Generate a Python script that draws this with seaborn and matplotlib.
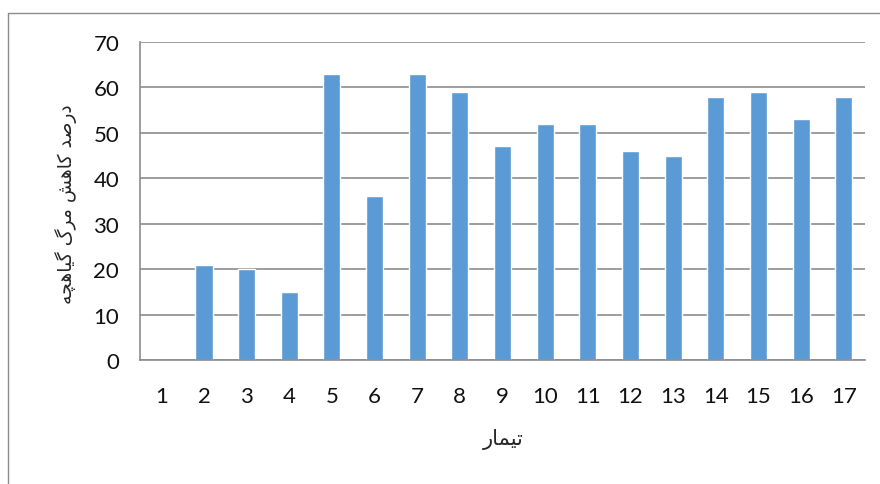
import numpy as np
import matplotlib
matplotlib.use('Agg')
import matplotlib.pyplot as plt
import seaborn as sns
from matplotlib import font_manager
from matplotlib.ft2font import FT2Font
from matplotlib.lines import Line2D

# data
treatments = [str(i) for i in range(1, 18)]
reduction = [0, 21, 20, 15, 63, 36, 63, 59, 47, 52, 52, 46, 45, 58, 59, 53, 58]
y_ticks = [0, 10, 20, 30, 40, 50, 60, 70]
x_title = 'تیمار'
y_title = 'درصد کاهش مرگ گیاهچه'

# matplotlib has no arabic shaping, so do a tiny one by hand
# letter -> (isolated, final, initial, medial)
forms = {
    'ا': (0xFE8D, 0xFE8E, None, None),
    'د': (0xFEA9, 0xFEAA, None, None),
    'ر': (0xFEAD, 0xFEAE, None, None),
    'ص': (0xFEB9, 0xFEBA, 0xFEBB, 0xFEBC),
    'ک': (0xFB8E, 0xFB8F, 0xFB90, 0xFB91),
    'ه': (0xFEE9, 0xFEEA, 0xFEEB, 0xFEEC),
    'ش': (0xFEB5, 0xFEB6, 0xFEB7, 0xFEB8),
    'م': (0xFEE1, 0xFEE2, 0xFEE3, 0xFEE4),
    'گ': (0xFB92, 0xFB93, 0xFB94, 0xFB95),
    'ی': (0xFBFC, 0xFBFD, 0xFBFE, 0xFBFF),
    'چ': (0xFB7A, 0xFB7B, 0xFB7C, 0xFB7D),
    'ت': (0xFE95, 0xFE96, 0xFE97, 0xFE98),
}

font_path = font_manager.findfont('DejaVu Sans')
cmap = FT2Font(font_path).get_charmap()


def shape(text):
    out = []
    for i, ch in enumerate(text):
        if ch not in forms:
            out.append(ch)
            continue
        prev = text[i - 1] if i > 0 else ''
        nxt = text[i + 1] if i + 1 < len(text) else ''
        joins_prev = prev in forms and forms[prev][2] is not None
        joins_next = nxt in forms and forms[ch][2] is not None
        if joins_prev and joins_next:
            cp = forms[ch][3]
        elif joins_prev:
            cp = forms[ch][1]
        elif joins_next:
            cp = forms[ch][2]
        else:
            cp = forms[ch][0]
        out.append(chr(cp) if cp in cmap else ch)
    return ''.join(out[::-1])


sns.set_style('white')
plt.rcParams['font.family'] = ['Lato', 'DejaVu Sans']

fig = plt.figure(figsize=(8.8, 4.85), dpi=100)
ax = fig.add_axes([140 / 880, 1 - 361 / 485, 725 / 880, 318 / 485])

sns.barplot(x=treatments, y=reduction, color='#5B9BD5', saturation=1,
            width=0.4, ax=ax)

grid_c = '#8c8c8c'
ax.set_ylim(0, 70)
ax.set_xlim(-0.5, 16.5)
ax.set_yticks(y_ticks)
ax.yaxis.grid(True, color=grid_c, lw=1.2)
ax.set_axisbelow(True)
for s in ['top', 'right']:
    ax.spines[s].set_visible(False)
for s in ['left', 'bottom']:
    ax.spines[s].set_color(grid_c)
    ax.spines[s].set_linewidth(1.2)

ax.set_xticks(np.arange(-0.5, 17, 1), minor=True)
ax.tick_params(axis='x', which='major', length=0, pad=19, labelsize=16,
               labelcolor='#111111')
ax.tick_params(axis='x', which='minor', length=7, color=grid_c, width=1.2)
ax.tick_params(axis='y', length=6, color=grid_c, width=1.2, pad=9,
               labelsize=16, labelcolor='#111111')
ax.set_xlabel('')
ax.set_ylabel('')

fig.text(66 / 880, 1 - 204 / 485, shape(y_title), rotation=90, ha='center',
         va='center', fontsize=13.5, family='DejaVu Sans')
fig.text(503 / 880, 1 - 440 / 485, shape(x_title), ha='center', va='center',
         fontsize=15, family='DejaVu Sans')

# outer chart border (cut off at right and bottom)
fig.add_artist(Line2D([7.5 / 880, 7.5 / 880], [0, 1 - 13.5 / 485],
                      transform=fig.transFigure, color=grid_c, lw=1))
fig.add_artist(Line2D([7.5 / 880, 1], [1 - 13.5 / 485, 1 - 13.5 / 485],
                      transform=fig.transFigure, color=grid_c, lw=1))

fig.savefig('out.png', dpi=100)
